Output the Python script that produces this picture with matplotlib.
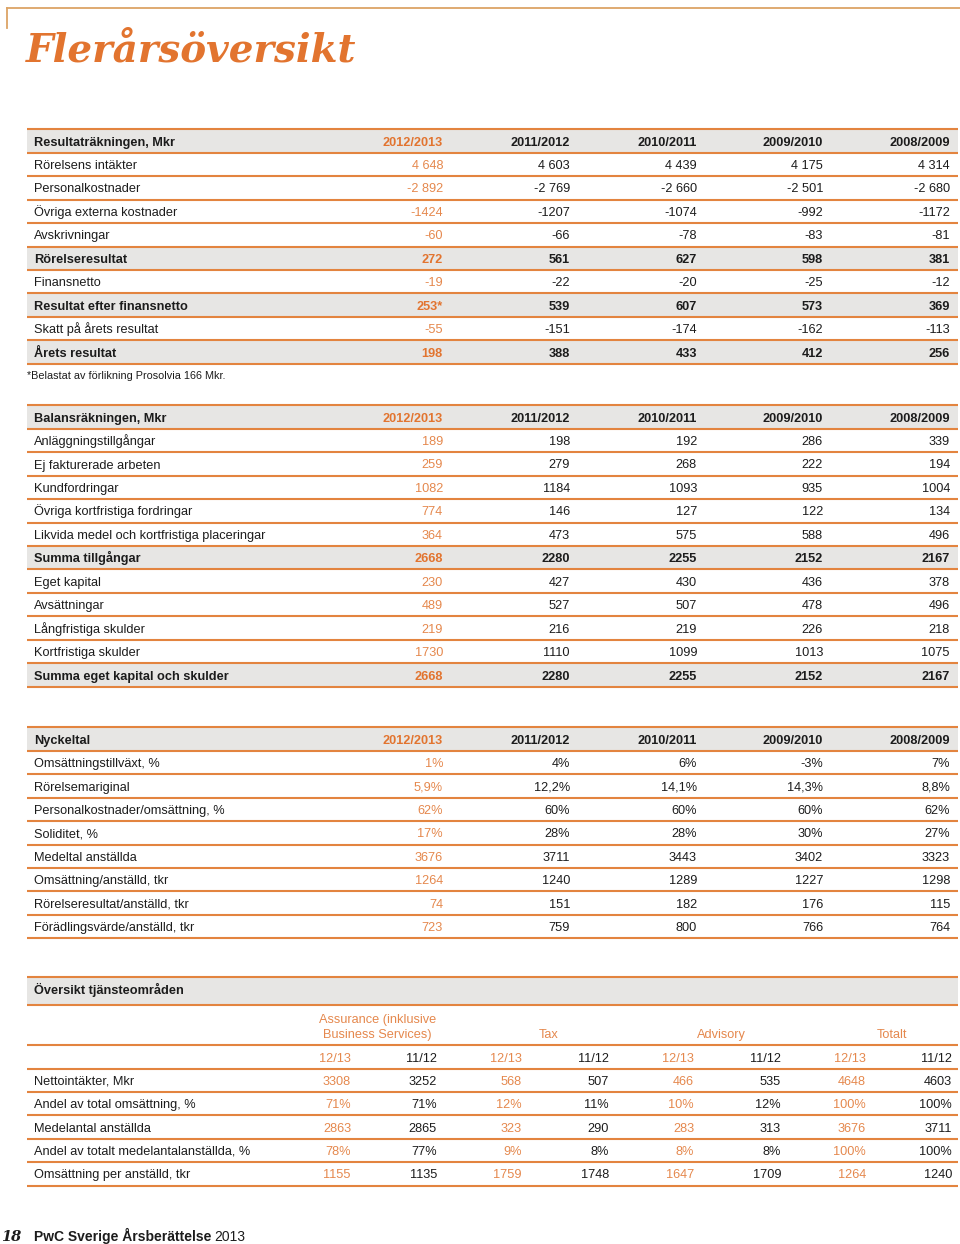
import matplotlib.pyplot as plt
from matplotlib.patches import Rectangle

# Colours
ORANGE = '#e2742f'
ORANGE_LT = '#e5884d'
LINE = '#e3843f'
GRAY = '#e7e6e4'
TXT = '#1c1c1c'
TAN = '#dca466'

SANS = 'Liberation Sans'
FS = 9.2

# Resultaträkningen
res_cols = ['2012/2013', '2011/2012', '2010/2011', '2009/2010', '2008/2009']
res_labels = ['Rörelsens intäkter', 'Personalkostnader', 'Övriga externa kostnader',
              'Avskrivningar', 'Rörelseresultat', 'Finansnetto',
              'Resultat efter finansnetto', 'Skatt på årets resultat', 'Årets resultat']
res_bold = [0, 0, 0, 0, 1, 0, 1, 0, 1]
res_2013 = ['4 648', '-2 892', '-1424', '-60', '272', '-19', '253*', '-55', '198']
res_2012 = ['4 603', '-2 769', '-1207', '-66', '561', '-22', '539', '-151', '388']
res_2011 = ['4 439', '-2 660', '-1074', '-78', '627', '-20', '607', '-174', '433']
res_2010 = ['4 175', '-2 501', '-992', '-83', '598', '-25', '573', '-162', '412']
res_2009 = ['4 314', '-2 680', '-1172', '-81', '381', '-12', '369', '-113', '256']
res_note = '*Belastat av förlikning Prosolvia 166 Mkr.'

# Balansräkningen
bal_labels = ['Anläggningstillgångar', 'Ej fakturerade arbeten', 'Kundfordringar',
              'Övriga kortfristiga fordringar', 'Likvida medel och kortfristiga placeringar',
              'Summa tillgångar', 'Eget kapital', 'Avsättningar', 'Långfristiga skulder',
              'Kortfristiga skulder', 'Summa eget kapital och skulder']
bal_bold = [0, 0, 0, 0, 0, 1, 0, 0, 0, 0, 1]
bal_2013 = ['189', '259', '1082', '774', '364', '2668', '230', '489', '219', '1730', '2668']
bal_2012 = ['198', '279', '1184', '146', '473', '2280', '427', '527', '216', '1110', '2280']
bal_2011 = ['192', '268', '1093', '127', '575', '2255', '430', '507', '219', '1099', '2255']
bal_2010 = ['286', '222', '935', '122', '588', '2152', '436', '478', '226', '1013', '2152']
bal_2009 = ['339', '194', '1004', '134', '496', '2167', '378', '496', '218', '1075', '2167']

# Nyckeltal
nyc_labels = ['Omsättningstillväxt, %', 'Rörelsemariginal', 'Personalkostnader/omsättning, %',
              'Soliditet, %', 'Medeltal anställda', 'Omsättning/anställd, tkr',
              'Rörelseresultat/anställd, tkr', 'Förädlingsvärde/anställd, tkr']
nyc_bold = [0] * 8
nyc_2013 = ['1%', '5,9%', '62%', '17%', '3676', '1264', '74', '723']
nyc_2012 = ['4%', '12,2%', '60%', '28%', '3711', '1240', '151', '759']
nyc_2011 = ['6%', '14,1%', '60%', '28%', '3443', '1289', '182', '800']
nyc_2010 = ['-3%', '14,3%', '60%', '30%', '3402', '1227', '176', '766']
nyc_2009 = ['7%', '8,8%', '62%', '27%', '3323', '1298', '115', '764']

# Översikt tjänsteområden
tj_groups = ['Assurance (inklusive\nBusiness Services)', 'Tax', 'Advisory', 'Totalt']
tj_sub = ['12/13', '11/12']
tj_labels = ['Nettointäkter, Mkr', 'Andel av total omsättning, %', 'Medelantal anställda',
             'Andel av totalt medelantalanställda, %', 'Omsättning per anställd, tkr']
ass_13 = ['3308', '71%', '2863', '78%', '1155']
ass_12 = ['3252', '71%', '2865', '77%', '1135']
tax_13 = ['568', '12%', '323', '9%', '1759']
tax_12 = ['507', '11%', '290', '8%', '1748']
adv_13 = ['466', '10%', '283', '8%', '1647']
adv_12 = ['535', '12%', '313', '8%', '1709']
tot_13 = ['4648', '100%', '3676', '100%', '1264']
tot_12 = ['4603', '100%', '3711', '100%', '1240']

# Layout (pixels)
W, H = 960, 1244
X0, X1 = 27, 958
LX = 34
RH = 23.45
COLX = [443, 570, 697, 823, 950]
TJ_X = [351, 437, 522, 609, 694, 781, 866, 952]

fig = plt.figure(figsize=(W / 100, H / 100), dpi=100)
ax = fig.add_axes([0, 0, 1, 1])
ax.set_xlim(0, W)
ax.set_ylim(H, 0)
ax.axis('off')


def hline(y):
    ax.plot([X0, X1], [y, y], color=LINE, lw=1.5, solid_capstyle='butt', zorder=3)


def band(y0, y1):
    ax.add_patch(Rectangle((X0, y0), X1 - X0, y1 - y0, color=GRAY, lw=0, zorder=1))


def txt(x, y, s, ha='left', bold=False, color=TXT, size=FS):
    ax.text(x, y + 4.6, s, ha=ha, va='baseline', fontsize=size, family=SANS,
            fontweight='bold' if bold else 'normal', color=color, zorder=4)


def table(yc, title, cols, labels, bold, columns):
    top = yc - RH / 2
    band(top, top + RH)
    hline(top)
    txt(LX, yc, title, bold=True)
    for j, c in enumerate(cols):
        txt(COLX[j], yc, c, ha='right', bold=True, color=ORANGE if j == 0 else TXT)
    for i, lab in enumerate(labels):
        y = yc + RH * (i + 1)
        if bold[i]:
            band(y - RH / 2, y + RH / 2)
        hline(y - RH / 2)
        txt(LX, y, lab, bold=bold[i])
        for j, col in enumerate(columns):
            c = (ORANGE if bold[i] else ORANGE_LT) if j == 0 else TXT
            txt(COLX[j], y, col[i], ha='right', bold=bold[i], color=c)
    yb = yc + RH * (len(labels) + 0.5)
    hline(yb)
    return yb


# Top decoration and title
ax.plot([7, 960], [8, 8], color=TAN, lw=1.3, zorder=3)
ax.plot([7, 7], [8, 28], color=TAN, lw=1.3, zorder=3)
ax.text(26, 61, 'Flerårsöversikt', ha='left', va='baseline', fontsize=28, family='DejaVu Serif',
        fontweight='bold', style='italic', color=ORANGE)

yb = table(141, 'Resultaträkningen, Mkr', res_cols, res_labels, res_bold,
           [res_2013, res_2012, res_2011, res_2010, res_2009])
ax.text(27, yb + 15, res_note, ha='left', va='baseline', fontsize=7.8, family=SANS, color=TXT)

table(417, 'Balansräkningen, Mkr', res_cols, bal_labels, bal_bold,
      [bal_2013, bal_2012, bal_2011, bal_2010, bal_2009])

table(739, 'Nyckeltal', res_cols, nyc_labels, nyc_bold,
      [nyc_2013, nyc_2012, nyc_2011, nyc_2010, nyc_2009])

# Översikt tjänsteområden
band(977, 1005)
hline(977)
hline(1005)
txt(LX, 989, 'Översikt tjänsteområden', bold=True)
for g, name in enumerate(tj_groups):
    cx = (TJ_X[2 * g] - 33 + TJ_X[2 * g + 1]) / 2
    ax.text(cx, 1038, name, ha='center', va='baseline', fontsize=FS, family=SANS,
            color=ORANGE_LT, linespacing=1.3, zorder=4)
hline(1045)
for k in range(8):
    txt(TJ_X[k], 1057, tj_sub[k % 2], ha='right', color=ORANGE_LT if k % 2 == 0 else TXT)
hline(1068.5)
tj_cols = [ass_13, ass_12, tax_13, tax_12, adv_13, adv_12, tot_13, tot_12]
for i, lab in enumerate(tj_labels):
    y = 1080 + RH * i
    if i > 0:
        hline(y - RH / 2)
    txt(LX, y, lab)
    for k, col in enumerate(tj_cols):
        txt(TJ_X[k], y, col[i], ha='right', color=ORANGE_LT if k % 2 == 0 else TXT)
hline(1080 + RH * 4.5)

# Footer
ax.text(1, 1241, '18', ha='left', va='baseline', fontsize=10.5, family='DejaVu Serif',
        fontweight='bold', style='italic', color=TXT)
ax.text(34, 1241, 'PwC Sverige Årsberättelse', ha='left', va='baseline', fontsize=10,
        family=SANS, fontweight='bold', color=TXT)
ax.text(245, 1241, '2013', ha='right', va='baseline', fontsize=10, family=SANS, color=TXT)

fig.savefig('out.png', dpi=100, facecolor='white')
